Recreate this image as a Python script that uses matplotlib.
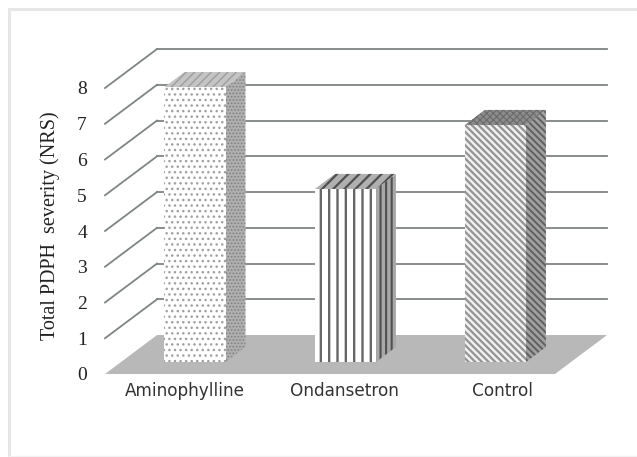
"""3D-look bar chart of total PDPH severity, drawn on a flat axes."""

import matplotlib
matplotlib.use("Agg")
import matplotlib.pyplot as plt
from matplotlib.lines import Line2D
from matplotlib.patches import Polygon

# ── Data ──
groups = ["Aminophylline", "Ondansetron", "Control"]
severity = [7.69, 4.84, 6.63]
yticks = [0, 1, 2, 3, 4, 5, 6, 7, 8]

W, H = 637, 457

# wall/floor depth and bar depth, in axes data units
WALL_DX, WALL_DY = 0.347, 1.09
BAR_DX, BAR_DY = 0.133, 0.42
GAP_DX, GAP_DY = 0.10, 0.336
BAR_W = 0.407

GRID = "#7f8583"
FLOOR = "#b8b8b8"

fig = plt.figure(figsize=(W / 100, H / 100), dpi=100, facecolor="white")

# frame: only top and left are really visible, bottom is faint
tf = fig.transFigure
fig.add_artist(Line2D([8.5 / W, 1], [1 - 8.5 / H, 1 - 8.5 / H], transform=tf, color="#e6e6e6", lw=2.2))
fig.add_artist(Line2D([8.5 / W, 8.5 / W], [0, 1 - 8.5 / H], transform=tf, color="#e6e6e6", lw=2.2))
fig.add_artist(Line2D([8.5 / W, 1], [1 - 456 / H, 1 - 456 / H], transform=tf, color="#f2f2f2", lw=1))

# front plane of the chart: x 105..555 px, y 374..88 px
ax = fig.add_axes([105 / W, 1 - 374 / H, 450 / W, 286 / H])
ax.set_xlim(0, 3)
ax.set_ylim(0, 8)
ax.patch.set_visible(False)
for s in ax.spines.values():
    s.set_visible(False)

# floor
ax.add_patch(Polygon([(0, 0), (3, 0), (3 + WALL_DX, WALL_DY), (WALL_DX, WALL_DY)],
                     facecolor=FLOOR, edgecolor="none", clip_on=False, zorder=1))

# grid lines along the wall and the back
for v in yticks:
    if v > 0:
        ax.plot([0, WALL_DX], [v, v + WALL_DY], color=GRID, lw=1.3, clip_on=False, zorder=2)
        ax.plot([WALL_DX, 3 + WALL_DX], [v + WALL_DY, v + WALL_DY], color=GRID, lw=1.3,
                clip_on=False, zorder=2)


def bar3d(center, value, front, side, top):
    x0 = center - BAR_W / 2 + GAP_DX
    x1 = x0 + BAR_W
    y0 = GAP_DY
    y1 = GAP_DY + value
    faces = [
        ([(x1, y0), (x1 + BAR_DX, y0 + BAR_DY), (x1 + BAR_DX, y1 + BAR_DY), (x1, y1)], side),
        ([(x0, y1), (x1, y1), (x1 + BAR_DX, y1 + BAR_DY), (x0 + BAR_DX, y1 + BAR_DY)], top),
        ([(x0, y0), (x1, y0), (x1, y1), (x0, y1)], front),
    ]
    for pts, st in faces:
        plt.rcParams["hatch.linewidth"] = st["lw"]
        ax.add_patch(Polygon(pts, facecolor=st["fc"], edgecolor=st["hc"], hatch=st["hatch"],
                             linewidth=0, clip_on=False, zorder=3))


bar3d(0.5, severity[0],
      {"fc": "white", "hc": "#a0a0a0", "hatch": "...", "lw": 1.0},
      {"fc": "#b0b0b0", "hc": "#808080", "hatch": ".....", "lw": 0.8},
      {"fc": "#c4c4c4", "hc": "#9a9a9a", "hatch": "////", "lw": 0.9})
bar3d(1.503, severity[1],
      {"fc": "white", "hc": "#666666", "hatch": "||", "lw": 1.7},
      {"fc": "#a8a8a8", "hc": "#505050", "hatch": "|||", "lw": 1.5},
      {"fc": "#b0b0b0", "hc": "#505050", "hatch": "///", "lw": 1.6})
bar3d(2.503, severity[2],
      {"fc": "#f0f0f0", "hc": "#949494", "hatch": "\\\\\\\\\\", "lw": 1.6},
      {"fc": "#a0a0a0", "hc": "#606060", "hatch": "\\\\\\\\\\", "lw": 1.4},
      {"fc": "#8c8c8c", "hc": "#6a6a6a", "hatch": "xxxxx", "lw": 0.8})

# ticks and labels
ax.set_yticks(yticks)
ax.set_yticklabels([str(v) for v in yticks], family="Liberation Serif", fontsize=14, color="#222222")
ax.set_xticks([0.533, 1.593, 2.647])
ax.set_xticklabels(groups, family="DejaVu Sans", fontsize=12.2, color="#333333")
ax.tick_params(axis="both", length=0)
ax.tick_params(axis="y", pad=13)
ax.tick_params(axis="x", pad=6)

fig.text(50 / W, 1 - 226 / H, "Total PDPH  severity (NRS)", rotation=90, ha="center", va="center",
         family="Liberation Serif", fontsize=14.5, color="#222222")

fig.savefig("out.png", dpi=100)
